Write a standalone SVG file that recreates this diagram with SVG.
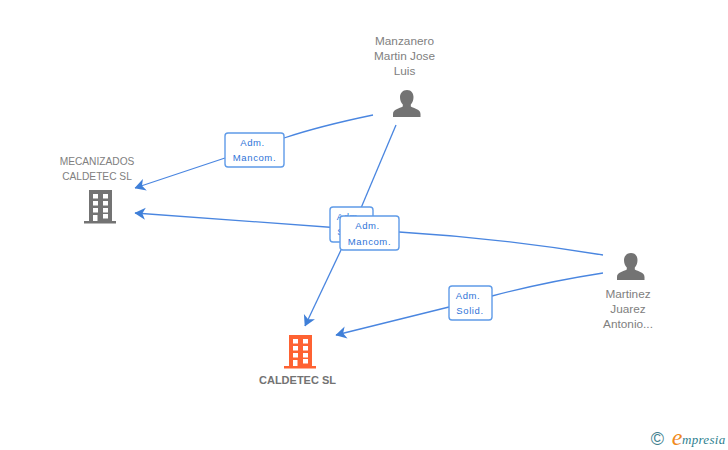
<svg xmlns="http://www.w3.org/2000/svg" width="728" height="450" viewBox="0 0 728 450">
<defs>
<style>
.n{font:10.2px "Liberation Sans",Arial,sans-serif;fill:#808080;text-anchor:middle}
.p{font:11.8px "Liberation Sans",Arial,sans-serif;fill:#808080;text-anchor:middle}
.l{font:9.5px "Liberation Sans",Arial,sans-serif;fill:#2f74d8;text-anchor:middle;letter-spacing:.6px}
.c{fill:none;stroke:#4a86e0;stroke-width:1.3}
.b{fill:#fff;stroke:#5f9be8;stroke-width:1.4}
</style>
<marker id="a" markerUnits="userSpaceOnUse" markerWidth="11" markerHeight="13" refX="8.500" refY="5" orient="auto" viewBox="0 0 9 10"><path d="M9 5L0 0L2.500 5L0 10Z" fill="#3f7fd8"/></marker>
<g id="bld"><path d="M5 0H28V31H32V33.500H0V31H5Z"/></g>
<path id="win" fill="#fff" d="M9 4h5v4.500h-5zM19 4h5v4.500h-5zM9 11h5v4.500h-5zM19 11h5v4.500h-5zM9 18h5v4.500h-5zM19 18h5v4.500h-5zM9 25h4.500v6H9zM19 24h5v4.500h-5z"/>
<g id="per"><path d="M14 0C18.500 0 20.500 3.500 20.500 7C20.500 10 19.500 12.500 17.800 14.500V16.500C21 18.500 27.500 19 27.500 24V27H0V24C0 19 6.500 18.500 9.800 16.500V14.500C8 12.500 7 10 7 7C7 3.500 9.500 0 14 0Z" fill="#737373"/></g>
</defs>
<rect width="728" height="450" fill="#fff"/>
<g id="connectors">
<path class="c" d="M373 115Q320 126 284 138"/>
<path class="c" d="M225 158L135 188" marker-end="url(#a)"/>
<path class="c" d="M396 125L361 208"/>
<path class="c" d="M341 250L305 326" marker-end="url(#a)"/>
<path class="c" d="M603 255Q500 238 399 232"/>
<path class="c" d="M340 228L135 213" marker-end="url(#a)"/>
<path class="c" d="M603 273Q545 282 492 296"/>
<path class="c" d="M449 307L336 335" marker-end="url(#a)"/>
</g>
<g id="node-mecanizados">
<text class="n" x="97" y="165">MECANIZADOS</text>
<text class="n" x="97" y="180">CALDETEC SL</text>
<g transform="translate(84,190)"><use href="#bld" fill="#737373"/><use href="#win"/></g>
</g>
<g id="node-manzanero">
<text class="p" x="404.500" y="45">Manzanero</text>
<text class="p" x="404.500" y="60">Martin Jose</text>
<text class="p" x="404.500" y="75">Luis</text>
<use href="#per" x="393" y="90"/>
</g>
<g id="node-martinez">
<use href="#per" x="617" y="253"/>
<text class="p" x="628" y="298">Martinez</text>
<text class="p" x="628" y="313">Juarez</text>
<text class="p" x="628" y="328">Antonio...</text>
</g>
<g id="node-caldetec">
<g transform="translate(284,335)"><use href="#bld" fill="#fe6232"/><use href="#win"/></g>
<text x="297.500" y="384" style="font:bold 11px 'Liberation Sans',Arial,sans-serif;fill:#737373;text-anchor:middle">CALDETEC SL</text>
</g>
<g id="label-1"><rect class="b" x="225" y="133" width="59" height="34" rx="3"/><text class="l" x="252.500" y="146">Adm.</text><text class="l" x="254.500" y="161">Mancom.</text></g>
<g id="label-2"><rect class="b" x="330" y="207" width="43" height="35" rx="3"/><text class="l" x="349" y="220">Adm.</text><text class="l" x="351" y="235">Solid.</text></g>
<g id="label-3"><rect class="b" x="340" y="216" width="59" height="34" rx="3"/><text class="l" x="367.500" y="229">Adm.</text><text class="l" x="369.500" y="245">Mancom.</text></g>
<g id="label-4"><rect class="b" x="449" y="286" width="43" height="34" rx="3"/><text class="l" x="468" y="299">Adm.</text><text class="l" x="470" y="314">Solid.</text></g>
<g id="brand">
<text x="657.500" y="445" style="font:18px 'Liberation Sans',Arial,sans-serif;fill:#3f7f8f;text-anchor:middle">©</text>
<text x="677" y="445" style="font:italic 24px 'Liberation Serif',serif;fill:#f08a1d;text-anchor:middle">e</text>
<text x="682" y="444" style="font:italic 13px 'Liberation Serif',serif;fill:#2f7f8f;letter-spacing:.3px">mpresia</text>
</g>
</svg>
